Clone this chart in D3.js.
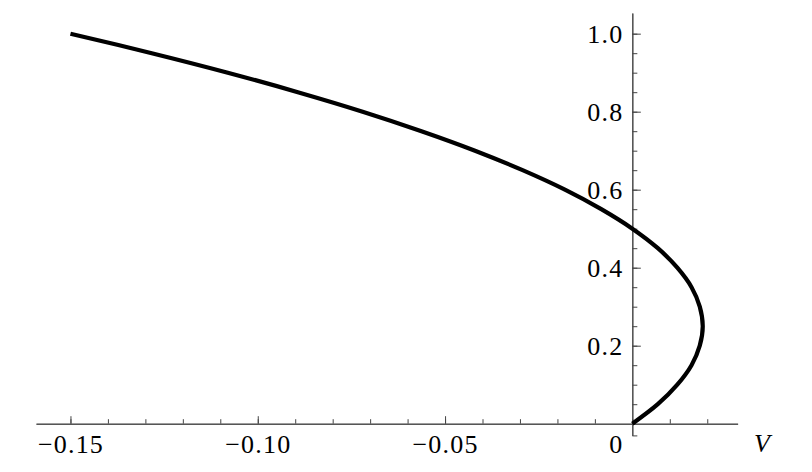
<!DOCTYPE html>
<html>
<head>
<meta charset="utf-8">
<script src="https://d3js.org/d3.v7.min.js"></script>
<style>
  body { margin: 0; background: #fff; }
</style>
</head>
<body>
<svg id="chart" width="812" height="472"></svg>
<script>
// points: height (y) and V (x)
var yVals = [0, 0.05, 0.1, 0.15, 0.2, 0.25, 0.3, 0.35, 0.4, 0.45, 0.5,
             0.55, 0.6, 0.65, 0.7, 0.75, 0.8, 0.85, 0.9, 0.95, 1.0];
var vVals = [0, 0.0068, 0.012, 0.0158, 0.018, 0.0188, 0.018, 0.0158, 0.012, 0.0068, 0,
             -0.0083, -0.018, -0.0293, -0.042, -0.0563, -0.072, -0.0893, -0.108, -0.1283, -0.15];

var xMajor = [-0.15, -0.10, -0.05];
var xMajorLabels = ["\u22120.15", "\u22120.10", "\u22120.05"];
var xMinor = d3.range(-15, 3).map(function (i) { return i / 100; });
var yMajor = [0.2, 0.4, 0.6, 0.8, 1.0];
var yMajorLabels = ["0.2", "0.4", "0.6", "0.8", "1.0"];
var yMinor = d3.range(1, 21).map(function (i) { return i / 20; });

var svg = d3.select("#chart");

var x = d3.scaleLinear().domain([-0.1592, 0.0281]).range([36, 737.6]);
var y = d3.scaleLinear().domain([-0.03, 1.053]).range([435.4, 13]);

var axisColor = "#444";
var serif = "'Liberation Serif', 'Times New Roman', serif";

function styleText(sel) {
  sel.style("font-family", serif)
    .style("font-size", "26px")
    .style("fill", "#000")
    .style("letter-spacing", "1.2px");
}

// x axis: minor ticks, then major ticks with labels (ticks point up)
var gx = svg.append("g").attr("transform", "translate(0," + y(0) + ")");
gx.append("g")
  .call(d3.axisBottom(x).tickValues(xMinor).tickSize(-4.5).tickSizeOuter(0).tickFormat(""));
gx.append("g")
  .call(d3.axisBottom(x).tickValues(xMajor).tickSize(-7.5).tickSizeOuter(0)
    .tickPadding(0)
    .tickFormat(function (d, i) { return xMajorLabels[i]; }));
gx.selectAll("path.domain").attr("stroke", axisColor);
gx.selectAll(".tick line").attr("stroke", axisColor);
gx.selectAll(".tick text").attr("dy", null).attr("y", 29.5)
  .attr("text-anchor", "middle").call(styleText);

// y axis: ticks point right, labels on the left
var gy = svg.append("g").attr("transform", "translate(" + x(0) + ",0)");
gy.append("g")
  .call(d3.axisLeft(y).tickValues(yMinor.concat([-0.03])).tickSize(-5).tickSizeOuter(0).tickFormat(""));
gy.append("g")
  .call(d3.axisLeft(y).tickValues(yMajor).tickSize(-8.5).tickSizeOuter(0)
    .tickPadding(9)
    .tickFormat(function (d, i) { return yMajorLabels[i]; }));
gy.selectAll("path.domain").attr("stroke", axisColor);
gy.selectAll(".tick line").attr("stroke", axisColor);
gy.selectAll(".tick text").attr("dy", "0.33em").attr("x", -9).call(styleText);

// origin label
svg.append("text")
  .attr("x", x(0) - 9).attr("y", y(0) + 29.5)
  .attr("text-anchor", "end")
  .call(styleText)
  .text("0");

// axis name
svg.append("text")
  .attr("x", 754).attr("y", y(0) + 28)
  .call(styleText)
  .style("font-style", "italic")
  .text("V");

// curve
var line = d3.line()
  .x(function (d) { return x(d[0]); })
  .y(function (d) { return y(d[1]); })
  .curve(d3.curveCatmullRom.alpha(0.5));

svg.append("path")
  .datum(vVals.map(function (v, i) { return [v, yVals[i]]; }))
  .attr("d", line)
  .attr("fill", "none")
  .attr("stroke", "#000")
  .attr("stroke-width", 4.2);
</script>
</body>
</html>
